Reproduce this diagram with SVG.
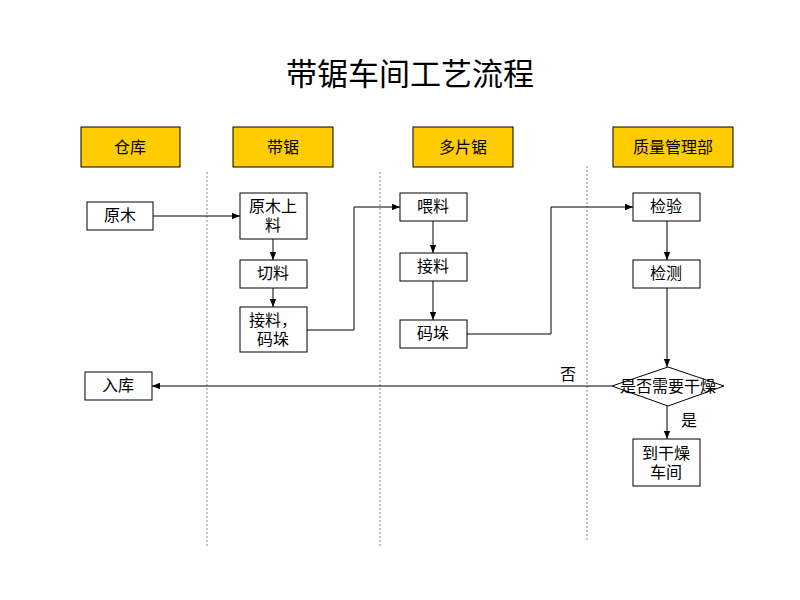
<svg xmlns="http://www.w3.org/2000/svg" width="800" height="600" viewBox="0 0 800 600">
<defs>
<style>
text{font-family:"Liberation Sans","Noto Sans CJK SC",sans-serif;fill:#000;text-anchor:middle}
.hdr{fill:#FFCC00;stroke:#000;stroke-width:1}
.box{fill:#fff;stroke:#000;stroke-width:1}
.t{font-size:16px}
.div{stroke:#888;stroke-width:1;stroke-dasharray:2,2;fill:none}
.c{stroke:#000;stroke-width:1;fill:none;marker-end:url(#ah)}
</style>
<marker id="ah" viewBox="0 0 10 10" refX="10" refY="5" markerWidth="8" markerHeight="8" markerUnits="userSpaceOnUse" orient="auto">
<path d="M0,1 L10,5 L0,9 Z" fill="#000"/>
</marker>
</defs>
<rect width="800" height="600" fill="#fff"/>
<text x="410" y="85" style="font-size:31px">带锯车间工艺流程</text>
<g id="dividers">
<line class="div" x1="207" y1="172" x2="207" y2="546"/>
<line class="div" x1="380" y1="172" x2="380" y2="546"/>
<line class="div" x1="587" y1="166" x2="587" y2="540"/>
</g>
<g id="lane-cangku"><rect class="hdr" x="81" y="127" width="99" height="40"/><text class="t" x="130" y="153">仓库</text></g>
<g id="lane-daiju"><rect class="hdr" x="233" y="127" width="100" height="40"/><text class="t" x="283" y="153">带锯</text></g>
<g id="lane-duopianju"><rect class="hdr" x="413" y="127" width="100" height="40"/><text class="t" x="463" y="153">多片锯</text></g>
<g id="lane-zhiliang"><rect class="hdr" x="613" y="127" width="120" height="40"/><text class="t" x="673" y="153">质量管理部</text></g>
<g id="yuanmu"><rect class="box" x="87" y="202" width="66" height="28"/><text class="t" x="120" y="221">原木</text></g>
<g id="yuanmushangliao"><rect class="box" x="240" y="193" width="67" height="46"/><text class="t" x="273" y="212">原木上</text><text class="t" x="273" y="231">料</text></g>
<g id="qieliao"><rect class="box" x="240" y="260" width="67" height="28"/><text class="t" x="273" y="279">切料</text></g>
<g id="jieliao-maduo"><rect class="box" x="240" y="307" width="67" height="45"/><text class="t" x="273" y="326">接料，</text><text class="t" x="273" y="345">码垛</text></g>
<g id="weiliao"><rect class="box" x="400" y="193" width="67" height="28"/><text class="t" x="433" y="212">喂料</text></g>
<g id="jieliao"><rect class="box" x="400" y="253" width="67" height="28"/><text class="t" x="433" y="272">接料</text></g>
<g id="maduo"><rect class="box" x="400" y="320" width="67" height="28"/><text class="t" x="433" y="339">码垛</text></g>
<g id="jianyan"><rect class="box" x="633" y="193" width="67" height="28"/><text class="t" x="666" y="212">检验</text></g>
<g id="jiance"><rect class="box" x="633" y="260" width="67" height="28"/><text class="t" x="666" y="279">检测</text></g>
<g id="decision"><polygon class="box" points="668,367 724,386 668,406 612,386"/><text class="t" x="668" y="392">是否需要干燥</text></g>
<g id="ganzao"><rect class="box" x="633" y="439" width="67" height="47"/><text class="t" x="666" y="459">到干燥</text><text class="t" x="666" y="478">车间</text></g>
<g id="ruku"><rect class="box" x="85" y="372" width="67" height="28"/><text class="t" x="118" y="391">入库</text></g>
<g id="connectors">
<path class="c" d="M153,216 H240"/>
<path class="c" d="M273,239 V260"/>
<path class="c" d="M273,288 V307"/>
<path class="c" d="M307,330 H354 V207 H400"/>
<path class="c" d="M433,221 V253"/>
<path class="c" d="M433,281 V320"/>
<path class="c" d="M467,334 H551 V207 H633"/>
<path class="c" d="M667,221 V260"/>
<path class="c" d="M667,288 V367"/>
<path class="c" d="M612,386 H152"/>
<path class="c" d="M667,406 V439"/>
<text class="t" x="568" y="380">否</text>
<text class="t" x="689" y="426">是</text>
</g>
</svg>
